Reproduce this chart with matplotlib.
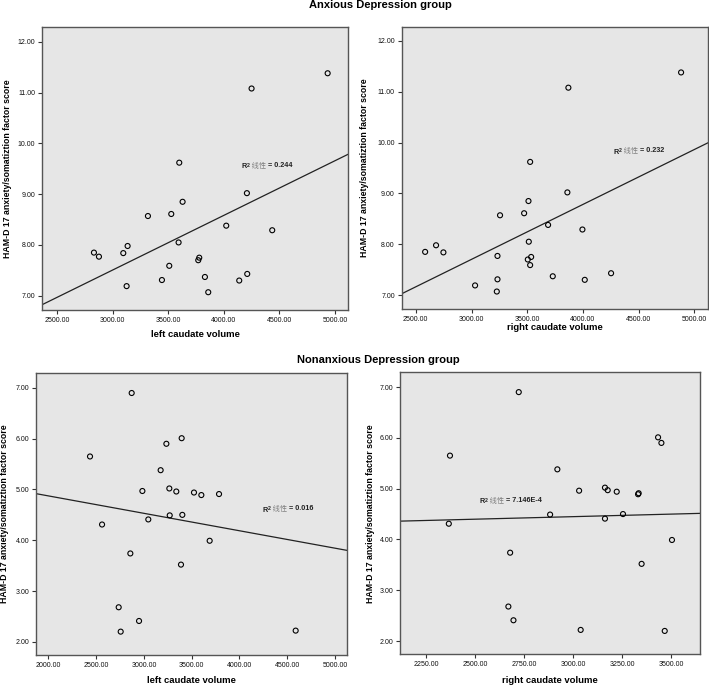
import numpy as np
import matplotlib
matplotlib.use("Agg")
import matplotlib.pyplot as plt

# ---------------- data ----------------
anx_score = [11.38, 11.08, 9.62, 9.02, 8.85, 8.61, 8.57, 8.38, 8.29, 8.05, 7.98, 7.85,
             7.84, 7.77, 7.75, 7.70, 7.59, 7.37, 7.43, 7.31, 7.30, 7.19, 7.07]
anx_left = [4934, 4249, 3598, 4207, 3628, 3526, 3316, 4021, 4435, 3592, 3133, 2830,
            3094, 2875, 3778, 3769, 3508, 3829, 4210, 3442, 4138, 3124, 3859]
anx_right = [4880, 3869, 3526, 3860, 3511, 3472, 3256, 3687, 3995, 3514, 2682, 2584,
             2748, 3233, 3535, 3505, 3526, 3729, 4252, 3233, 4016, 3032, 3227]

non_score = [6.90, 6.01, 5.90, 5.65, 5.38, 5.02, 4.97, 4.96, 4.94, 4.91, 4.89, 4.49,
             4.50, 4.41, 4.31, 3.99, 3.74, 3.52, 2.68, 2.41, 2.22, 2.20]
non_left = [2872, 3395, 3235, 2436, 3175, 3266, 2984, 3339, 3524, 3786, 3601, 3270,
            3402, 3046, 2562, 3688, 2858, 3388, 2736, 2949, 4588, 2757]
non_right = [2723, 3434, 3451, 2372, 2920, 3163, 3177, 3031, 3223, 3335, 3332, 2883,
             3255, 3163, 2366, 3505, 2679, 3350, 2670, 2696, 3039, 3468]

r2_labels = ["0.244", "0.232", "0.016", "7.146E-4"]
titles = ["Anxious Depression group", "Nonanxious Depression group"]
ylabel = "HAM-D 17 anxiety/somatiztion factor score"
xlabels = ["left caudate volume", "right caudate volume",
           "left caudate volume", "right caudate volume"]

# ---------------- style ----------------
plt.rcParams['font.family'] = ['Liberation Sans', 'Noto Sans CJK SC', 'DejaVu Sans']
BG = '#e6e6e6'
EDGE = '#555555'

fig = plt.figure(figsize=(7.09, 6.86), dpi=100)

panels = [
    dict(rect=[0.0592, 0.5481, 0.4316, 0.4125], x=anx_left, y=anx_score,
         xlim=(2362, 5117), ylim=(6.72, 12.29), xt=np.arange(2500, 5001, 500), yt=np.arange(7, 13, 1),
         r2pos=(4159, 9.54), ylc=-0.114, xlc=-0.088),
    dict(rect=[0.5666, 0.5491, 0.4316, 0.4120], x=anx_right, y=anx_score,
         xlim=(2374, 5119), ylim=(6.72, 12.28), xt=np.arange(2500, 5001, 500), yt=np.arange(7, 13, 1),
         r2pos=(4273, 9.81), ylc=-0.12, xlc=-0.066),
    dict(rect=[0.0508, 0.0452, 0.4382, 0.4115], x=non_left, y=non_score,
         xlim=(1871, 5122), ylim=(1.74, 7.30), xt=np.arange(2000, 5001, 500), yt=np.arange(2, 8, 1),
         r2pos=(4243, 4.59), ylc=-0.10, xlc=-0.091),
    dict(rect=[0.5642, 0.0462, 0.4231, 0.4111], x=non_right, y=non_score,
         xlim=(2117, 3648), ylim=(1.74, 7.29), xt=np.arange(2250, 3501, 250), yt=np.arange(2, 8, 1),
         r2pos=(2525, 4.74), ylc=-0.098, xlc=-0.094),
]

for i, p in enumerate(panels):
    ax = fig.add_axes(p['rect'])
    ax.set_facecolor(BG)
    x = np.array(p['x'], float)
    y = np.array(p['y'], float)
    ax.scatter(x, y, s=13, facecolors='none', edgecolors='black', linewidths=0.8, zorder=3)
    # linear fit across full x range
    k, b = np.polyfit(x, y, 1)
    xx = np.array(p['xlim'])
    ax.plot(xx, k * xx + b, color='#222222', lw=0.9, zorder=2)
    ax.set_xlim(p['xlim'])
    ax.set_ylim(p['ylim'])
    ax.set_xticks(p['xt'])
    ax.set_yticks(p['yt'])
    ax.set_xticklabels([f"{v:.2f}" for v in p['xt']])
    ax.set_yticklabels([f"{v:.2f}" for v in p['yt']])
    ax.tick_params(axis='both', labelsize=5, length=3, width=0.8, color='#333333',
                   labelcolor='#111111', pad=2)
    for sp in ax.spines.values():
        sp.set_color(EDGE)
        sp.set_linewidth(1.0)
    ax.set_ylabel(ylabel, fontsize=6.3, fontweight='bold', va='center')
    ax.yaxis.set_label_coords(p['ylc'], 0.5)
    ax.set_xlabel(xlabels[i], fontsize=6.8, fontweight='bold', va='center')
    ax.xaxis.set_label_coords(0.5, p['xlc'])
    # R^2 annotation
    t1 = ax.text(p['r2pos'][0], p['r2pos'][1], "R", fontsize=5.2, fontweight='bold',
                 color='#222222', va='center', ha='left')
    t1b = ax.annotate("2", xy=(1, 0.35), xycoords=t1, fontsize=3.8, fontweight='bold',
                      color='#222222', va='bottom', ha='left')
    t2 = ax.annotate(" 线性", xy=(1, -0.35), xycoords=t1b, fontsize=5.2, color='#808080',
                     family=['Noto Sans CJK SC', 'DejaVu Sans'], va='bottom', ha='left')
    ax.annotate(" = " + r2_labels[i], xy=(1, 0.12), xycoords=t2, fontsize=5.2,
                fontweight='bold', color='#222222', va='bottom', ha='left')

fig.text(0.536, 0.992, titles[0], fontsize=8, fontweight='bold', ha='center', va='center')
fig.text(0.533, 0.475, titles[1], fontsize=8, fontweight='bold', ha='center', va='center')

fig.savefig("out.png", dpi=100)
